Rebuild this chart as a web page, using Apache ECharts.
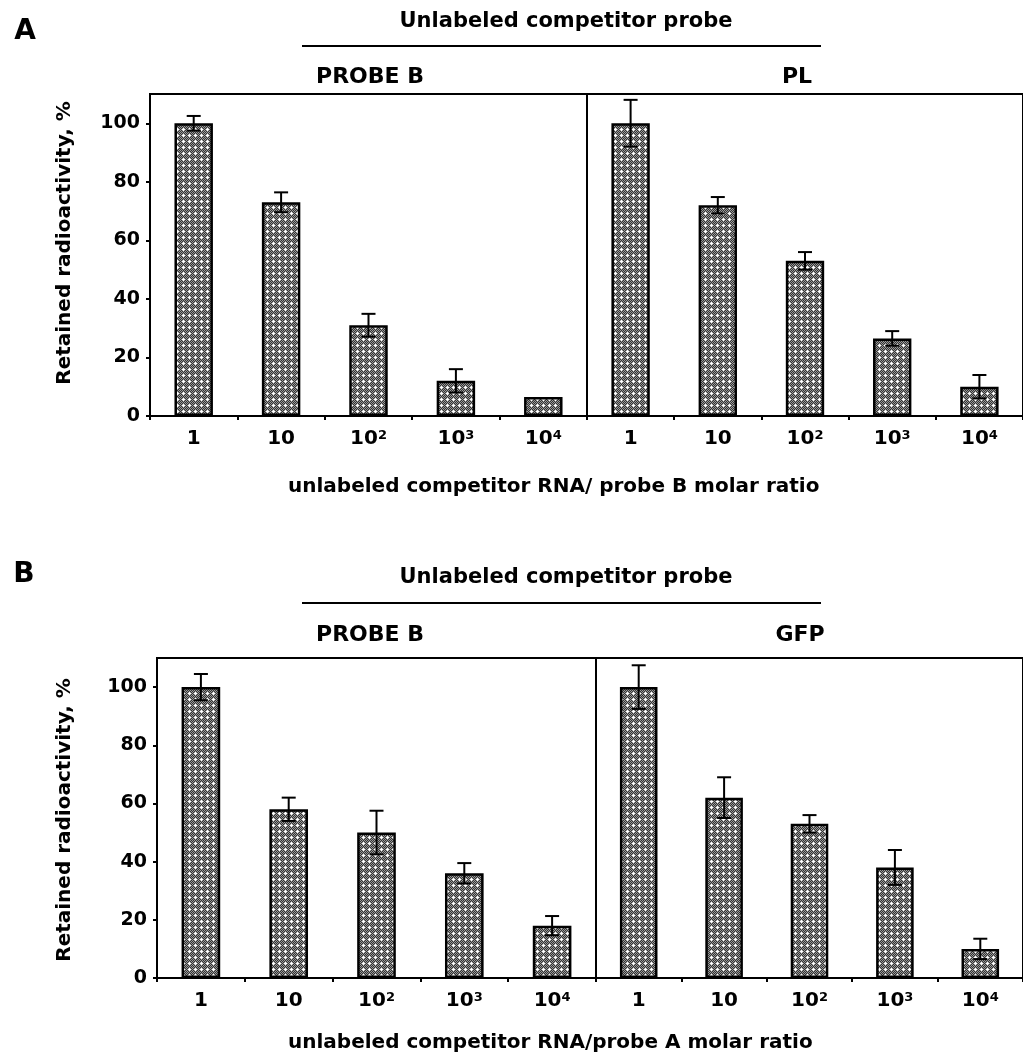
<!DOCTYPE html>
<html>
<head>
<meta charset="utf-8">
<script src="https://cdn.jsdelivr.net/npm/echarts@6/dist/echarts.min.js"></script>
<style>
html,body{margin:0;padding:0;background:#fff;}
#chart{width:1023px;height:1058px;}
</style>
</head>
<body>
<div id="chart"></div>
<script>
// ---- data ----
const ratioLabels = ['1', '10', '10^2', '10^3', '10^4'];
const yTicks = [0, 20, 40, 60, 80, 100];

// Panel A
const aProbeB = [100, 73, 31, 12, 6.5];
const aProbeBErr = [2.5, 3.4, 3.9, 4, 0];
const aPL = [100, 72, 53, 26.5, 10];
const aPLErr = [8, 2.8, 3, 2.5, 4];

// Panel B
const bProbeB = [100, 58, 50, 36, 18];
const bProbeBErr = [4.5, 4, 7.5, 3.5, 3.3];
const bGFP = [100, 62, 53, 38, 10];
const bGFPErr = [7.5, 7, 3, 6, 3.5];

// ---- pattern fill ----
const pc = document.createElement('canvas');
pc.width = 6; pc.height = 6;
const g = pc.getContext('2d');
for (let y = 0; y < 6; y++) {
  for (let x = 0; x < 6; x++) {
    g.fillStyle = (x + y) % 2 ? '#333333' : '#9a9a9a';
    g.fillRect(x, y, 1, 1);
  }
}
g.fillStyle = '#ffffff';
[[3,2],[2,3],[3,3],[4,3],[3,4]].forEach(p => g.fillRect(p[0], p[1], 1, 1));
const barFill = { image: pc, repeat: 'repeat' };

const FONT = '"DejaVu Sans", "Liberation Sans", Arial, sans-serif';

const grids = [
  { left: 150, top: 94, width: 437, height: 322 },
  { left: 587, top: 94, width: 440, height: 322 },
  { left: 157, top: 658, width: 439, height: 320 },
  { left: 596, top: 658, width: 437, height: 320 }
];

function xAxisFor(i) {
  return {
    gridIndex: i, type: 'category', data: ratioLabels,
    axisLine: { lineStyle: { color: '#000', width: 2 } },
    axisTick: { show: true, interval: 0, length: 4, lineStyle: { color: '#000', width: 2 } },
    axisLabel: {
      interval: 0,
      color: '#000', fontFamily: FONT, fontWeight: 'bold', fontSize: 20, margin: 13,
      formatter: v => v.indexOf('^') > 0 ? v.split('^')[0] + '{sup|' + v.split('^')[1] + '}' : v,
      rich: { sup: { fontSize: 13, fontWeight: 'bold', fontFamily: FONT, color: '#000', verticalAlign: 'top', lineHeight: 12 } }
    },
    splitLine: { show: false }
  };
}
function yAxisFor(i, showIt) {
  return {
    gridIndex: i, type: 'value', min: 0, max: 110, interval: 20,
    show: showIt,
    axisLine: { show: true, lineStyle: { color: '#000', width: 2 } },
    axisTick: { show: true, length: 4, customValues: yTicks, lineStyle: { color: '#000', width: 2 } },
    axisLabel: { color: '#000', fontFamily: FONT, fontWeight: 'bold', fontSize: 19, margin: 10, customValues: yTicks },
    splitLine: { show: false }
  };
}

function errRender(params, api) {
  const x = api.value(0), v = api.value(1), e = api.value(2);
  if (!e) return null;
  const hi = api.coord([x, v + e]);
  const lo = api.coord([x, v - e]);
  const w = 7;
  const st = { stroke: '#000', lineWidth: 2 };
  return {
    type: 'group', children: [
      { type: 'line', shape: { x1: hi[0], y1: hi[1], x2: lo[0], y2: lo[1] }, style: st },
      { type: 'line', shape: { x1: hi[0] - w, y1: hi[1], x2: hi[0] + w, y2: hi[1] }, style: st },
      { type: 'line', shape: { x1: lo[0] - w, y1: lo[1], x2: lo[0] + w, y2: lo[1] }, style: st }
    ]
  };
}

function barSeries(i, vals) {
  return {
    type: 'bar', xAxisIndex: i, yAxisIndex: i, data: vals, barWidth: '44%',
    itemStyle: { color: barFill, borderColor: '#000', borderWidth: 2.5 },
    z: 2, silent: true
  };
}
function errSeries(i, vals, errs) {
  return {
    type: 'custom', xAxisIndex: i, yAxisIndex: i,
    data: vals.map((v, k) => [k, v, errs[k]]),
    encode: { x: 0, y: 1 },
    renderItem: errRender, z: 5, silent: true
  };
}

function txt(x, y, text, size, align, rot) {
  return {
    type: 'text', x: x, y: y, rotation: rot || 0,
    style: { text: text, font: 'bold ' + size + 'px ' + FONT, fill: '#000', align: align || 'center', verticalAlign: 'middle' }
  };
}

const chart = echarts.init(document.getElementById('chart'), null, { renderer: 'canvas' });
chart.setOption({
  animation: false,
  backgroundColor: '#fff',
  grid: grids.map(gr => Object.assign({ show: true, borderColor: '#000', borderWidth: 2, backgroundColor: 'transparent' }, gr)),
  xAxis: [0, 1, 2, 3].map(xAxisFor),
  yAxis: [yAxisFor(0, true), yAxisFor(1, false), yAxisFor(2, true), yAxisFor(3, false)],
  series: [
    barSeries(0, aProbeB), errSeries(0, aProbeB, aProbeBErr),
    barSeries(1, aPL), errSeries(1, aPL, aPLErr),
    barSeries(2, bProbeB), errSeries(2, bProbeB, bProbeBErr),
    barSeries(3, bGFP), errSeries(3, bGFP, bGFPErr)
  ],
  graphic: [
    txt(25, 32, 'A', 28),
    txt(566, 22, 'Unlabeled competitor probe', 21),
    { type: 'line', shape: { x1: 302, y1: 46, x2: 821, y2: 46 }, style: { stroke: '#000', lineWidth: 2 } },
    txt(370, 77, 'PROBE B', 22),
    txt(797, 77, 'PL', 22),
    txt(65, 243, 'Retained radioactivity, %', 20, 'center', Math.PI / 2),
    txt(288, 487, 'unlabeled competitor RNA/ probe B molar ratio', 20, 'left'),
    txt(24, 575, 'B', 28),
    txt(566, 578, 'Unlabeled competitor probe', 21),
    { type: 'line', shape: { x1: 302, y1: 603, x2: 821, y2: 603 }, style: { stroke: '#000', lineWidth: 2 } },
    txt(370, 635, 'PROBE B', 22),
    txt(800, 635, 'GFP', 22),
    txt(65, 820, 'Retained radioactivity, %', 20, 'center', Math.PI / 2),
    txt(288, 1043, 'unlabeled competitor RNA/probe A molar ratio', 20, 'left')
  ]
});
</script>
</body>
</html>
